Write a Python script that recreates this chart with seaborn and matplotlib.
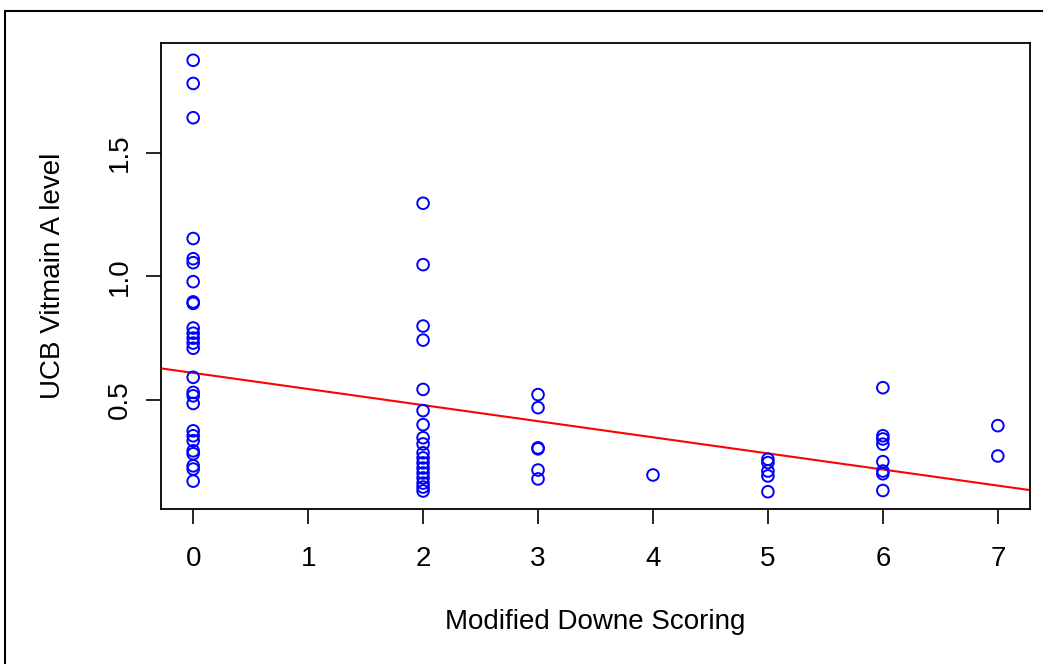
import numpy as np
import pandas as pd
import matplotlib
matplotlib.use("Agg")
import matplotlib.pyplot as plt
import seaborn as sns
from matplotlib.lines import Line2D

# ---- data ----
score_0 = [1.876, 1.782, 1.643, 1.153, 1.071, 1.055, 0.978, 0.896, 0.890, 0.790, 0.769,
           0.749, 0.729, 0.708, 0.590, 0.529, 0.515, 0.484, 0.373, 0.353, 0.333, 0.292,
           0.280, 0.231, 0.218, 0.169]
score_2 = [1.296, 1.047, 0.798, 0.741, 0.541, 0.455, 0.398, 0.345, 0.320, 0.284, 0.263,
           0.243, 0.222, 0.202, 0.182, 0.161, 0.145, 0.129]
score_3 = [0.520, 0.467, 0.304, 0.300, 0.214, 0.178]
score_4 = [0.194]
score_5 = [0.258, 0.244, 0.210, 0.190, 0.126]
score_6 = [0.548, 0.353, 0.340, 0.319, 0.248, 0.210, 0.199, 0.131]
score_7 = [0.394, 0.271]

# regression line as drawn in the reference
line_intercept = 0.608
line_slope = -0.0653

groups = {0: score_0, 2: score_2, 3: score_3, 4: score_4, 5: score_5, 6: score_6, 7: score_7}
x_ticks = [0, 1, 2, 3, 4, 5, 6, 7]
y_ticks = [0.5, 1.0, 1.5]
x_label = "Modified Downe Scoring"
y_label = "UCB Vitmain A level"

df = pd.DataFrame([(k, v) for k, vals in groups.items() for v in vals],
                  columns=["score", "vitA"])

sns.set_style("white")
plt.rcParams["font.family"] = ["Liberation Sans", "DejaVu Sans"]
plt.rcParams["text.color"] = "black"
plt.rcParams["axes.labelcolor"] = "black"
plt.rcParams["xtick.color"] = "black"
plt.rcParams["ytick.color"] = "black"

fig = plt.figure(figsize=(10.43, 6.64), dpi=100)
ax = fig.add_axes([161 / 1043, 1 - 509 / 664, (1030 - 161) / 1043, (509 - 43) / 664])

sns.scatterplot(data=df, x="score", y="vitA", ax=ax, marker="o", s=70,
                facecolor="none", edgecolor="#0000FF", linewidth=1.4, zorder=3)

ax.axline((0, line_intercept), slope=line_slope, color="#FF0000", lw=1.5, zorder=2)

ax.set_xlim(-0.28, 7.28)
ax.set_ylim(0.056, 1.946)
ax.set_xticks(x_ticks)
ax.set_yticks(y_ticks)
ax.set_xticklabels([str(t) for t in x_ticks], fontsize=20)
ax.set_yticklabels([f"{t:.1f}" for t in y_ticks], fontsize=20, rotation=90, va="center")
ax.tick_params(axis="both", direction="out", length=11, width=1.2, color="black",
               bottom=True, left=True)
ax.tick_params(axis="x", pad=16)
ax.tick_params(axis="y", pad=9)
for sp in ax.spines.values():
    sp.set_visible(True)
    sp.set_color("black")
    sp.set_linewidth(1.3)
ax.set_xlabel(x_label, fontsize=20, labelpad=26)
ax.set_ylabel(y_label, fontsize=20, labelpad=30)

# outer frame (left and top edges visible)
fig.add_artist(Line2D([5 / 1043, 5 / 1043], [0, 1 - 11 / 664], transform=fig.transFigure,
                      color="black", lw=1.5))
fig.add_artist(Line2D([5 / 1043, 1], [1 - 11 / 664, 1 - 11 / 664], transform=fig.transFigure,
                      color="black", lw=1.5))

fig.savefig("out.png", dpi=100)
